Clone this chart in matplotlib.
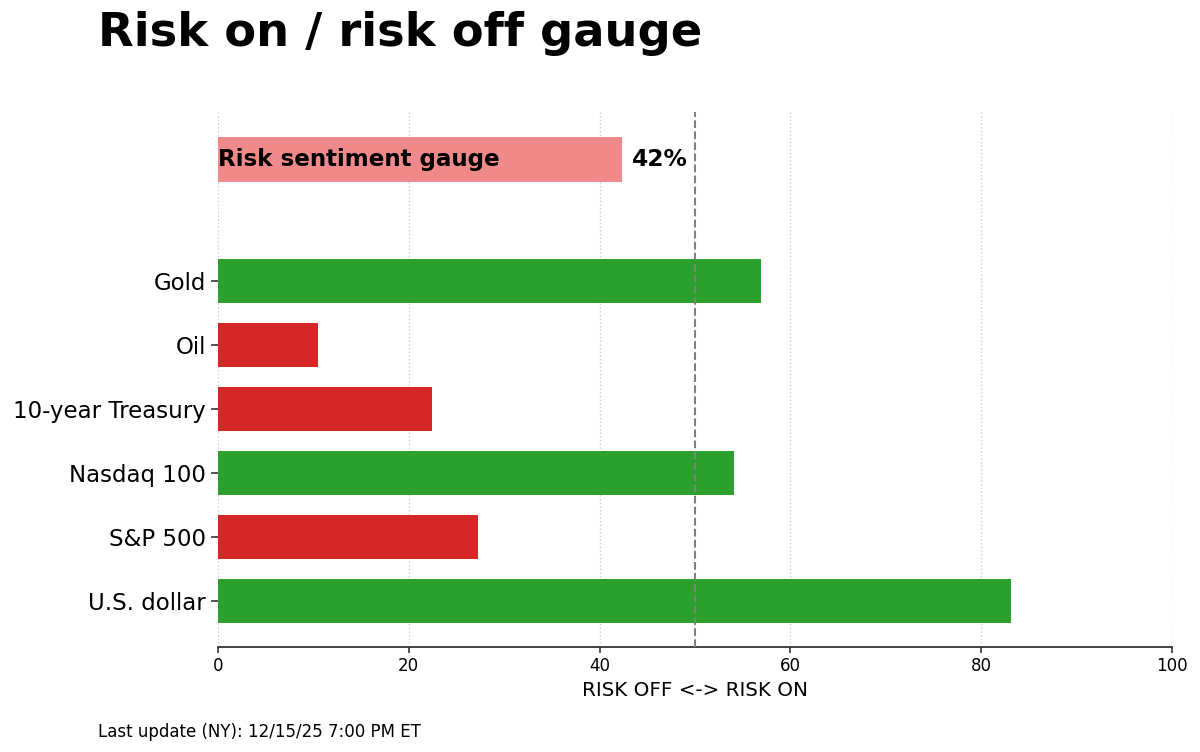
import matplotlib
matplotlib.use("Agg")
import matplotlib.pyplot as plt

categories = ["U.S. dollar", "S&P 500", "Nasdaq 100", "10-year Treasury", "Oil", "Gold"]
values = [83.1, 27.3, 54.1, 22.4, 10.5, 56.9]
risk_on = [True, False, True, False, False, True]
gauge_label = "Risk sentiment gauge"
gauge_value = 42.3
x_ticks = [0, 20, 40, 60, 80, 100]

GREEN = "#2ca02c"
RED = "#d62728"
GAUGE = "#f08a8a"

fig = plt.figure(figsize=(12, 7.52), dpi=100)
ax = fig.add_axes([218/1200, 1-647/752, (1172-218)/1200, (647-112)/752])

ypos = list(range(len(categories)))
colors = [GREEN if r else RED for r in risk_on]
ax.barh(ypos, values, height=0.7, color=colors, zorder=2)

gauge_y = 6.9
ax.barh([gauge_y], [gauge_value], height=0.7, color=GAUGE, zorder=2)
ax.text(0.0, gauge_y, gauge_label, va="center", ha="left", fontsize=16.6,
        fontweight="bold", zorder=3)
ax.text(gauge_value + 1.05, gauge_y, f"{round(gauge_value)}%", va="center", ha="left",
        fontsize=16.8, fontweight="bold", zorder=3)

ax.axvline(50, color="gray", linestyle="--", linewidth=1.5, zorder=3)

ax.set_xlim(0, 100)
ax.set_ylim(-0.72, 7.64)
ax.set_xticks(x_ticks)
ax.set_xticklabels([str(t) for t in x_ticks], fontsize=12)
ax.set_yticks(ypos)
ax.set_yticklabels(categories, fontsize=16.5)
ax.tick_params(axis="y", length=5, width=1.2, color="#333333")
ax.tick_params(axis="x", length=4, width=1.2, color="#333333")
ax.set_xlabel("RISK OFF <-> RISK ON", fontsize=14.3, labelpad=4)
ax.xaxis.grid(True, linestyle=":", color="#cccccc", linewidth=1, zorder=0)
ax.set_axisbelow(True)
for s in ["top", "right", "left"]:
    ax.spines[s].set_visible(False)
ax.spines["bottom"].set_color("#333333")
ax.spines["bottom"].set_linewidth(1.3)

fig.text(98/1200, 1-33/752, "Risk on / risk off gauge", fontsize=33.4,
         fontweight="bold", ha="left", va="center")
fig.text(98/1200, 1-732/752, "Last update (NY): 12/15/25 7:00 PM ET", fontsize=12,
         ha="left", va="center")

fig.savefig("out.png", dpi=100)
